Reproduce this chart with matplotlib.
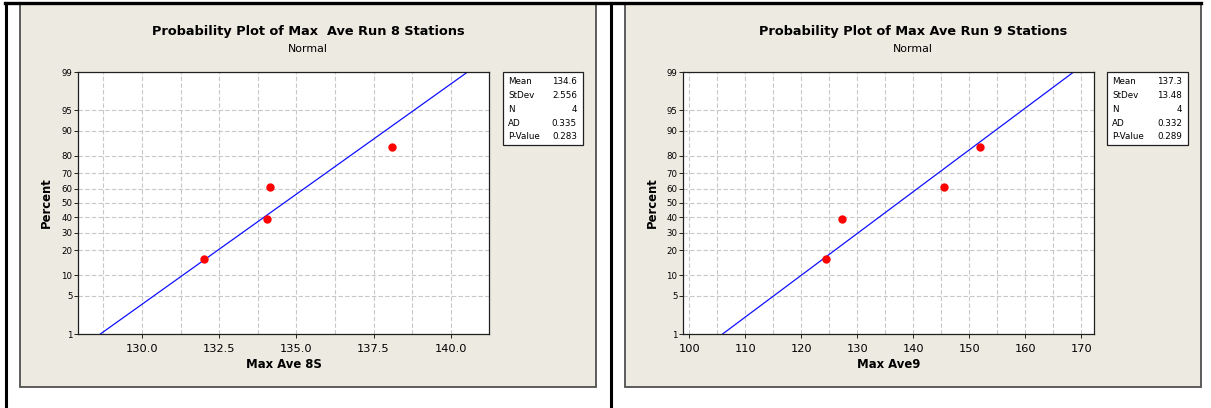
import matplotlib
matplotlib.use('Agg')
import matplotlib.pyplot as plt
from matplotlib.patches import Rectangle
from matplotlib.lines import Line2D
from statistics import NormalDist

# data
pct = [15.9, 38.6, 61.4, 84.1]
run8_x = [132.0, 134.06, 134.14, 138.1]
run9_x = [124.5, 127.2, 145.5, 151.9]

stat_names = ['Mean', 'StDev', 'N', 'AD', 'P-Value']
run8_stats = ['134.6', '2.556', '4', '0.335', '0.283']
run9_stats = ['137.3', '13.48', '4', '0.332', '0.289']

run8_fit = (134.6, 2.556)
run9_fit = (137.3, 13.48)

y_ticks = [1, 5, 10, 20, 30, 40, 50, 60, 70, 80, 90, 95, 99]

W, H = 1211, 408
nd = NormalDist()
z = lambda p: nd.inv_cdf(p / 100.0)

plt.rcParams['font.family'] = 'DejaVu Sans'
fig = plt.figure(figsize=(W / 100, H / 100), dpi=100)
fig.patch.set_facecolor('white')


def fx(px):
    return px / W


def fy(py):
    return 1 - py / H


# page frame lines (table borders)
for xs, ys, lw in [((5, 1201), (3, 3), 2.4), ((6, 6), (3, 408), 2.2),
                   ((611, 611), (3, 408), 2.2)]:
    fig.add_artist(Line2D([fx(x) for x in xs], [fy(y) for y in ys],
                          color='black', lw=lw))


def panel(x0, x1, ax_x0, ax_x1, leg_x0, leg_x1, xdata, fit, stats,
          xlim, major, minor, fmt, title, xlabel, ylab_x):
    # beige background
    fig.add_artist(Rectangle((fx(x0), fy(387)), fx(x1) - fx(x0), fy(4) - fy(387),
                             facecolor='#EDEAE1', edgecolor='#505050', lw=1.3,
                             zorder=-5))
    cx = (fx(x0) + fx(x1)) / 2
    fig.text(cx, fy(32), title, ha='center', va='center', fontsize=9.3,
             fontweight='bold')
    fig.text(cx, fy(49), 'Normal', ha='center', va='center', fontsize=7.9)

    ax = fig.add_axes([fx(ax_x0), fy(334), fx(ax_x1) - fx(ax_x0), fy(72) - fy(334)])
    ax.set_facecolor('white')
    ax.set_xlim(*xlim)
    ax.set_ylim(z(1), z(99))
    ax.set_xticks(major)
    ax.set_xticklabels([fmt.format(v) for v in major], fontsize=8.2)
    ax.set_xticks(minor, minor=True)
    ax.set_yticks([z(p) for p in y_ticks])
    ax.set_yticklabels([str(p) for p in y_ticks], fontsize=6.2)
    ax.tick_params(axis='x', which='major', length=3, width=0.6, pad=4)
    ax.tick_params(axis='x', which='minor', length=0)
    ax.tick_params(axis='y', length=3, width=0.6, pad=1)
    ax.grid(True, which='both', axis='x', color='#c8c8c8', ls=(0, (4, 2)), lw=0.8)
    ax.grid(True, which='major', axis='y', color='#c8c8c8', ls=(0, (4, 2)), lw=0.8)
    ax.set_axisbelow(True)
    for s in ax.spines.values():
        s.set_color('#202020')
        s.set_linewidth(0.9)

    m, sd = fit
    zz = [z(1), z(99)]
    ax.plot([m + sd * v for v in zz], zz, color='#1010ff', lw=0.9)
    ax.plot(xdata, [z(p) for p in pct], 'o', color='#ff0000', ms=5, mec='#ff0000')

    ax.set_xlabel(xlabel, fontsize=8.4, fontweight='bold', labelpad=3)
    fig.text(fx(ylab_x), fy(203), 'Percent', rotation=90, ha='center',
             va='center', fontsize=8.4, fontweight='bold')

    # stats box
    fig.add_artist(Rectangle((fx(leg_x0), fy(145)), fx(leg_x1) - fx(leg_x0),
                             fy(72) - fy(145), facecolor='white',
                             edgecolor='#202020', lw=0.9))
    for i, (name, val) in enumerate(zip(stat_names, stats)):
        yy = fy(81 + i * 14)
        fig.text(fx(leg_x0 + 5), yy, name, ha='left', va='center', fontsize=6.3)
        fig.text(fx(leg_x1 - 6), yy, val, ha='right', va='center', fontsize=6.3)
    return ax


panel(20, 596, 78, 489, 503, 583, run8_x, run8_fit, run8_stats,
      (127.93, 141.24), [130.0, 132.5, 135.0, 137.5, 140.0],
      [128.75, 131.25, 133.75, 136.25, 138.75],
      '{:.1f}', 'Probability Plot of Max  Ave Run 8 Stations', 'Max Ave 8S', 46)

panel(625, 1201, 683, 1094, 1107, 1188, run9_x, run9_fit, run9_stats,
      (98.87, 172.3), list(range(100, 171, 10)), list(range(105, 170, 10)),
      '{:d}', 'Probability Plot of Max Ave Run 9 Stations', 'Max Ave9', 652)

fig.savefig('out.png', dpi=100)
